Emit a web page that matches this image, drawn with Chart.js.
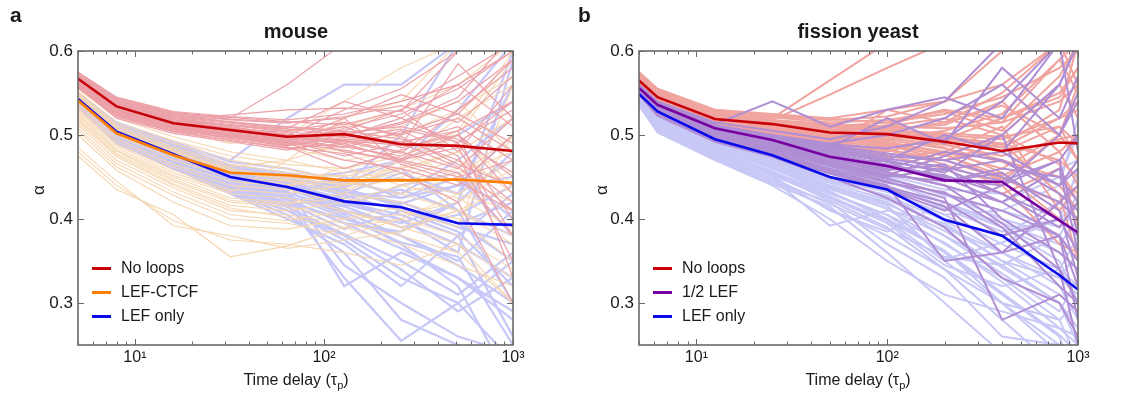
<!DOCTYPE html>
<html>
<head>
<meta charset="utf-8">
<script src="https://cdn.jsdelivr.net/npm/chart.js@4.4.1/dist/chart.umd.min.js"></script>
<style>
  html, body { margin: 0; padding: 0; background: #fff; }
  body { width: 1136px; height: 402px; position: relative; overflow: hidden; font-family: "Liberation Sans", Arial, sans-serif; color: #1a1a1a; }
  canvas { position: absolute; top: 0; }
  .lbl { position: absolute; white-space: nowrap; }
  .panel { font-weight: bold; font-size: 21px; }
  .title { font-weight: bold; font-size: 20px; transform: translateX(-50%); }
  .xt { font-size: 16px; transform: translateX(-50%); }
  .xt sub { font-size: 11px; vertical-align: -4px; }
  .yt { font-size: 17px; transform: translate(-50%, -50%) rotate(-90deg); }
  .leg { position: absolute; font-size: 16px; width: 160px; }
  .leg div { position: relative; height: 24px; line-height: 24px; white-space: nowrap; }
  .leg span.sw { position: absolute; left: 0; top: 11px; width: 19px; height: 2.5px; }
  .leg span.tx { position: absolute; left: 29px; top: 0; white-space: nowrap; }
</style>
</head>
<body>
<canvas id="ca" width="568" height="402" style="left:0"></canvas>
<canvas id="cb" width="568" height="402" style="left:568px"></canvas>

<div class="lbl panel" style="left:10px; top:3px;">a</div>
<div class="lbl panel" style="left:578px; top:3px;">b</div>
<div class="lbl title" style="left:296px; top:20px;">mouse</div>
<div class="lbl title" style="left:858px; top:20px;">fission yeast</div>
<div class="lbl xt" style="left:296px; top:371px;">Time delay (τ<sub>p</sub>)</div>
<div class="lbl xt" style="left:858px; top:371px;">Time delay (τ<sub>p</sub>)</div>
<div class="lbl yt" style="left:39px; top:190px;">α</div>
<div class="lbl yt" style="left:602px; top:190px;">α</div>

<div class="leg" id="legA" style="left:92px; top:256px;"></div>
<div class="leg" id="legB" style="left:653px; top:256px;"></div>

<script>
// ---------------- DATA ----------------
const X_A = [5, 8, 16, 32, 64, 128, 256, 512, 1000];
const X_B = [5, 6.25, 12.5, 25, 50, 100, 200, 400, 800, 1000];
const X_TICKS = [10, 100, 1000];
const X_TICK_LABELS = ['10\u00B9', '10\u00B2', '10\u00B3'];
const Y_TICKS = [0.3, 0.4, 0.5, 0.6];

const LABELS_A = ['No loops', 'LEF-CTCF', 'LEF only'];
const LABELS_B = ['No loops', '1/2 LEF', 'LEF only'];

// mouse means
const A_NOLOOPS = [0.567, 0.534, 0.514, 0.506, 0.498, 0.501, 0.489, 0.487, 0.481];
const A_CTCF    = [0.541, 0.502, 0.476, 0.455, 0.452, 0.446, 0.446, 0.447, 0.443];
const A_LEF     = [0.543, 0.504, 0.477, 0.450, 0.438, 0.421, 0.414, 0.395, 0.393];

// fission yeast means
const B_NOLOOPS = [0.565, 0.545, 0.519, 0.513, 0.503, 0.501, 0.492, 0.481, 0.491, 0.490];
const B_HALF    = [0.556, 0.536, 0.508, 0.494, 0.474, 0.463, 0.446, 0.444, 0.398, 0.384];
const B_LEF     = [0.549, 0.528, 0.495, 0.476, 0.450, 0.435, 0.399, 0.380, 0.333, 0.316];

// mouse individual trajectories
const A_NOLOOPS_RUNS = [
  [.575,.545,.528,.522,.518,.525,.540,.560,.600],
  [.572,.540,.522,.515,.510,.505,.495,.470,.420],
  [.570,.538,.520,.512,.505,.515,.500,.520,.480],
  [.568,.536,.518,.510,.500,.498,.520,.490,.540],
  [.566,.534,.515,.508,.503,.480,.470,.455,.380],
  [.565,.532,.514,.505,.498,.510,.485,.500,.450],
  [.563,.530,.512,.503,.495,.492,.478,.530,.580],
  [.562,.528,.510,.500,.492,.485,.505,.475,.350],
  [.560,.526,.508,.498,.490,.470,.460,.440,.500],
  [.559,.524,.506,.496,.488,.500,.515,.545,.620],
  [.558,.522,.504,.494,.485,.478,.455,.420,.300],
  [.557,.520,.502,.492,.482,.495,.490,.510,.470],
  [.571,.542,.525,.520,.560,.610,.610,.610,.610],
  [.569,.539,.521,.514,.508,.540,.520,.560,.510],
  [.567,.535,.517,.509,.501,.488,.472,.490,.400],
  [.564,.531,.513,.504,.496,.505,.530,.480,.560],
  [.561,.527,.509,.499,.489,.515,.498,.465,.440],
  [.573,.543,.526,.519,.515,.520,.548,.525,.590],
  [.556,.523,.505,.497,.486,.460,.482,.505,.330],
  [.566,.533,.516,.507,.499,.493,.488,.585,.520],
  [.570,.537,.519,.524,.530,.532,.528,.600,.610],
  [.563,.529,.511,.501,.493,.520,.465,.445,.410],
  [.574,.544,.527,.521,.516,.512,.530,.570,.610],
  [.571,.541,.523,.516,.509,.503,.510,.495,.455],
  [.569,.538,.520,.511,.504,.497,.492,.505,.540],
  [.567,.536,.517,.508,.500,.494,.480,.460,.520],
  [.565,.533,.514,.505,.497,.490,.502,.525,.490],
  [.563,.530,.511,.502,.494,.486,.475,.500,.430],
  [.561,.528,.509,.500,.491,.482,.468,.450,.470],
  [.559,.525,.507,.497,.488,.508,.525,.555,.600],
  [.557,.522,.504,.494,.484,.490,.470,.485,.380],
  [.572,.541,.524,.518,.514,.522,.535,.515,.570],
  [.568,.537,.518,.512,.507,.500,.513,.540,.590],
  [.562,.529,.510,.501,.493,.475,.490,.462,.410],
  [.560,.527,.508,.499,.487,.497,.507,.492,.530],
  [.566,.534,.515,.506,.499,.530,.555,.600,.610]
];
const A_CTCF_RUNS = [
  [.565,.540,.525,.515,.505,.510,.530,.560,.610],
  [.560,.530,.510,.495,.485,.470,.480,.450,.420],
  [.555,.520,.498,.480,.470,.455,.460,.480,.520],
  [.550,.512,.490,.470,.460,.445,.430,.410,.380],
  [.545,.505,.480,.460,.450,.440,.450,.470,.440],
  [.540,.500,.470,.450,.445,.430,.420,.400,.350],
  [.535,.493,.462,.440,.435,.420,.440,.455,.480],
  [.528,.485,.452,.430,.425,.410,.390,.370,.330],
  [.520,.478,.445,.420,.415,.400,.405,.420,.460],
  [.512,.470,.437,.410,.405,.395,.380,.360,.300],
  [.505,.462,.428,.400,.395,.380,.400,.430,.410],
  [.546,.507,.482,.458,.448,.442,.455,.480,.520],
  [.485,.445,.392,.380,.365,.375,.385,.410,.440],
  [.475,.435,.405,.355,.368,.390,.400,.380,.340],
  [.530,.488,.455,.432,.470,.520,.540,.610,.610],
  [.548,.510,.486,.465,.455,.450,.470,.520,.560],
  [.538,.496,.465,.445,.438,.462,.440,.425,.390],
  [.515,.474,.440,.413,.402,.390,.370,.345,.320],
  [.500,.458,.420,.392,.388,.400,.415,.395,.500],
  [.544,.505,.480,.457,.446,.436,.448,.430,.470],
  [.558,.525,.505,.490,.500,.540,.580,.610,.610],
  [.525,.482,.450,.425,.420,.430,.470,.500,.590],
  [.562,.533,.515,.500,.490,.480,.500,.530,.570],
  [.552,.515,.493,.475,.465,.460,.475,.505,.600],
  [.543,.503,.475,.455,.450,.452,.445,.460,.520],
  [.532,.490,.458,.435,.430,.440,.460,.480,.430],
  [.518,.476,.442,.416,.410,.420,.430,.450,.500],
  [.508,.466,.432,.405,.398,.410,.390,.410,.370],
  [.541,.501,.474,.450,.441,.445,.462,.500,.440],
  [.480,.440,.398,.375,.370,.360,.345,.370,.300],
  [.547,.508,.484,.462,.470,.490,.510,.540,.480],
  [.523,.481,.447,.422,.418,.425,.410,.390,.560]
];
const A_LEF_RUNS = [
  [.550,.515,.492,.468,.460,.445,.430,.470,.520],
  [.548,.512,.488,.462,.452,.430,.420,.395,.350],
  [.546,.510,.485,.458,.448,.440,.500,.610,.610],
  [.545,.508,.482,.455,.445,.420,.405,.380,.430],
  [.543,.506,.480,.452,.440,.425,.435,.410,.300],
  [.542,.504,.478,.450,.437,.410,.395,.420,.480],
  [.541,.503,.476,.448,.434,.345,.300,.260,.240],
  [.540,.501,.474,.446,.430,.320,.360,.330,.280],
  [.538,.499,.472,.443,.425,.415,.440,.455,.400],
  [.537,.497,.469,.440,.420,.400,.380,.350,.410],
  [.536,.495,.467,.437,.415,.430,.455,.430,.560],
  [.535,.493,.465,.434,.410,.380,.340,.290,.330],
  [.534,.491,.462,.432,.405,.360,.280,.250,.210],
  [.549,.514,.490,.470,.520,.560,.560,.610,.610],
  [.544,.507,.481,.454,.442,.435,.415,.390,.370],
  [.539,.500,.473,.444,.428,.450,.425,.440,.450],
  [.547,.511,.486,.460,.450,.438,.460,.410,.380],
  [.533,.490,.460,.430,.400,.370,.320,.380,.260],
  [.542,.505,.479,.451,.438,.418,.400,.360,.590],
  [.536,.496,.468,.438,.418,.330,.255,.300,.350],
  [.545,.509,.483,.456,.446,.442,.470,.530,.610],
  [.540,.502,.475,.447,.432,.405,.370,.320,.200],
  [.549,.513,.489,.464,.455,.442,.448,.430,.470],
  [.548,.512,.487,.461,.451,.436,.418,.440,.500],
  [.546,.509,.484,.457,.446,.428,.410,.385,.320],
  [.545,.507,.481,.453,.441,.422,.398,.370,.330],
  [.543,.505,.479,.450,.436,.415,.390,.405,.440],
  [.541,.502,.476,.447,.432,.408,.380,.345,.300],
  [.540,.500,.473,.444,.428,.402,.372,.355,.250],
  [.538,.498,.470,.441,.424,.395,.365,.330,.290],
  [.537,.496,.468,.439,.419,.388,.410,.395,.420],
  [.535,.494,.465,.436,.414,.382,.350,.310,.360],
  [.534,.492,.463,.433,.410,.375,.330,.300,.230],
  [.547,.510,.485,.459,.447,.455,.470,.500,.540],
  [.544,.506,.480,.452,.443,.432,.425,.450,.380],
  [.539,.499,.471,.442,.423,.395,.385,.420,.600]
];

// fission yeast individual trajectories
const B_NOLOOPS_RUNS = [
  [.575,.555,.530,.525,.520,.530,.540,.560,.610,.610],
  [.572,.552,.527,.520,.565,.610,.610,.610,.610,.610],
  [.570,.550,.525,.518,.548,.580,.610,.610,.610,.610],
  [.568,.548,.523,.515,.510,.505,.500,.495,.520,.540],
  [.567,.547,.521,.513,.507,.500,.490,.470,.450,.430],
  [.566,.545,.519,.511,.505,.510,.520,.500,.560,.520],
  [.565,.544,.518,.510,.503,.498,.485,.455,.400,.380],
  [.564,.543,.517,.508,.500,.495,.505,.525,.590,.610],
  [.563,.542,.516,.506,.498,.492,.478,.445,.500,.470],
  [.562,.541,.515,.505,.496,.488,.470,.490,.430,.350],
  [.561,.540,.514,.503,.494,.485,.495,.520,.550,.580],
  [.560,.539,.513,.502,.492,.482,.465,.440,.370,.360],
  [.559,.538,.512,.500,.490,.480,.500,.480,.510,.490],
  [.558,.537,.511,.498,.488,.530,.515,.550,.610,.560],
  [.557,.536,.510,.497,.486,.476,.460,.430,.460,.420],
  [.569,.549,.524,.517,.512,.508,.512,.540,.480,.500],
  [.571,.551,.526,.521,.515,.518,.528,.505,.570,.610],
  [.556,.535,.509,.495,.484,.473,.480,.510,.410,.440],
  [.564,.546,.520,.512,.506,.502,.496,.488,.530,.610],
  [.560,.540,.514,.504,.495,.490,.475,.500,.465,.390],
  [.573,.553,.528,.522,.518,.522,.540,.600,.610,.610],
  [.566,.546,.520,.509,.502,.512,.530,.515,.590,.550],
  [.574,.554,.529,.523,.519,.515,.525,.545,.580,.600],
  [.570,.550,.525,.518,.513,.510,.508,.515,.540,.560],
  [.568,.548,.522,.515,.509,.506,.502,.498,.510,.470],
  [.566,.546,.520,.512,.506,.503,.498,.490,.470,.450],
  [.565,.545,.519,.510,.503,.500,.495,.485,.520,.530],
  [.563,.543,.517,.508,.500,.496,.488,.475,.495,.500],
  [.562,.541,.516,.506,.498,.494,.484,.468,.440,.410],
  [.561,.540,.514,.504,.496,.491,.480,.460,.500,.560],
  [.559,.538,.512,.501,.492,.487,.476,.452,.480,.440],
  [.567,.547,.521,.514,.510,.515,.530,.520,.545,.580],
  [.564,.544,.518,.509,.501,.505,.515,.535,.500,.470],
  [.558,.537,.511,.499,.489,.483,.470,.448,.420,.400]
];
const B_HALF_RUNS = [
  [.560,.540,.515,.505,.495,.510,.540,.610,.610,.610],
  [.558,.538,.512,.500,.490,.500,.520,.560,.500,.540],
  [.557,.536,.510,.498,.487,.475,.470,.450,.420,.400],
  [.556,.535,.508,.495,.483,.470,.455,.500,.560,.610],
  [.555,.533,.506,.492,.478,.465,.450,.420,.380,.350],
  [.554,.532,.504,.490,.475,.460,.480,.470,.440,.460],
  [.553,.530,.502,.487,.471,.455,.440,.395,.340,.300],
  [.552,.529,.500,.484,.467,.450,.460,.430,.400,.380],
  [.551,.527,.498,.482,.463,.445,.425,.280,.310,.290],
  [.550,.526,.496,.479,.458,.440,.350,.360,.420,.440],
  [.549,.524,.494,.476,.454,.435,.410,.440,.470,.380],
  [.548,.523,.492,.474,.450,.425,.390,.330,.300,.260],
  [.559,.539,.513,.540,.510,.530,.545,.520,.610,.610],
  [.555,.534,.507,.493,.480,.468,.445,.460,.450,.420],
  [.553,.531,.503,.489,.473,.458,.465,.400,.360,.340],
  [.551,.528,.499,.483,.465,.448,.430,.410,.380,.320],
  [.557,.537,.511,.499,.489,.484,.495,.540,.610,.480],
  [.550,.525,.495,.478,.456,.438,.420,.380,.400,.360],
  [.556,.534,.509,.496,.485,.520,.490,.580,.520,.570],
  [.552,.530,.501,.486,.469,.452,.475,.500,.340,.250],
  [.557,.537,.510,.497,.485,.472,.462,.445,.470,.500],
  [.556,.535,.508,.494,.481,.468,.458,.470,.430,.410],
  [.555,.534,.507,.492,.478,.464,.448,.440,.500,.550],
  [.554,.532,.505,.490,.476,.462,.452,.430,.390,.420],
  [.553,.531,.503,.488,.472,.456,.440,.420,.460,.360],
  [.552,.529,.501,.485,.468,.452,.445,.455,.410,.330],
  [.551,.528,.500,.484,.466,.470,.500,.480,.440,.470],
  [.550,.526,.497,.480,.460,.443,.432,.390,.320,.300],
  [.558,.538,.511,.498,.488,.478,.470,.480,.560,.610],
  [.549,.525,.495,.477,.455,.436,.415,.360,.380,.280]
];
const B_LEF_RUNS = [
  [.550,.530,.500,.482,.465,.455,.440,.420,.450,.500],
  [.548,.528,.497,.478,.460,.448,.430,.400,.380,.350],
  [.547,.526,.494,.475,.455,.440,.415,.390,.350,.300],
  [.546,.525,.492,.472,.450,.435,.400,.380,.420,.450],
  [.545,.523,.490,.469,.445,.428,.390,.360,.320,.280],
  [.544,.522,.488,.466,.440,.420,.380,.345,.300,.250],
  [.543,.520,.486,.463,.436,.412,.370,.330,.280,.230],
  [.542,.518,.484,.460,.431,.405,.360,.310,.260,.200],
  [.541,.516,.482,.457,.427,.398,.350,.300,.240,.200],
  [.540,.514,.480,.454,.422,.390,.340,.280,.220,.200],
  [.539,.512,.478,.451,.410,.385,.420,.390,.360,.340],
  [.538,.510,.476,.448,.392,.410,.395,.350,.330,.310],
  [.537,.508,.474,.445,.420,.370,.330,.260,.250,.220],
  [.536,.505,.472,.442,.415,.360,.300,.240,.230,.210],
  [.549,.529,.499,.480,.462,.452,.435,.430,.460,.470],
  [.544,.521,.487,.465,.438,.416,.352,.372,.400,.420],
  [.541,.515,.481,.455,.425,.395,.345,.320,.340,.380],
  [.535,.503,.470,.440,.400,.350,.310,.290,.270,.260],
  [.546,.524,.491,.470,.448,.432,.405,.410,.440,.520],
  [.542,.519,.485,.461,.433,.400,.362,.300,.250,.240],
  [.549,.529,.498,.479,.461,.450,.428,.410,.390,.430],
  [.548,.527,.496,.477,.458,.445,.420,.395,.370,.400],
  [.547,.526,.494,.474,.454,.440,.412,.385,.400,.460],
  [.546,.524,.492,.471,.450,.434,.405,.370,.340,.320],
  [.545,.522,.490,.468,.446,.428,.398,.360,.330,.360],
  [.544,.521,.488,.466,.443,.423,.392,.350,.310,.290],
  [.543,.519,.486,.463,.440,.418,.386,.342,.300,.270],
  [.542,.517,.484,.460,.436,.413,.380,.335,.290,.330],
  [.540,.514,.481,.456,.430,.405,.372,.325,.270,.250],
  [.539,.512,.479,.452,.425,.398,.362,.312,.262,.240],
  [.537,.509,.476,.448,.418,.388,.355,.345,.380,.420],
  [.536,.507,.473,.445,.412,.380,.340,.300,.280,.300]
];

// ---------------- STYLE ----------------
const COL = {
  red: 'rgb(200,0,8)', orange: 'rgb(255,128,0)', blue: 'rgb(10,10,235)', purple: 'rgb(118,0,160)',
  redFaintA: 'rgb(236,160,168)', orangeFaintA: 'rgb(246,214,176)', blueFaintA: 'rgb(200,200,248)',
  redFaintB: 'rgb(240,164,160)', purpleFaintB: 'rgb(176,142,212)', blueFaintB: 'rgb(200,200,246)'
};

function pts(xs, ys) { return ys.map((y, i) => ({ x: xs[i], y: y })); }

function runSets(xs, runs, color, width, order) {
  return runs.map(r => ({ data: pts(xs, r), borderColor: color, borderWidth: width, pointRadius: 0, tension: 0, clip: 0, order: order }));
}
function meanSet(xs, ys, color) {
  return { data: pts(xs, ys), borderColor: color, borderWidth: 2.6, pointRadius: 0, tension: 0, clip: 0, order: 0 };
}

const boxPlugin = {
  id: 'box',
  afterDatasetsDraw(chart) {
    const { ctx, chartArea: a, scales } = chart;
    const xs = scales.x, ys = scales.y;
    ctx.save();
    ctx.strokeStyle = 'rgb(105,105,105)';
    ctx.lineWidth = 1;
    ctx.beginPath();
    for (let e = 0; e <= 3; e++) {
      for (let m = 1; m <= 9; m++) {
        const v = m * Math.pow(10, e);
        if (v < 5 || v > 1000) continue;
        const px = Math.round(xs.getPixelForValue(v)) + 0.5;
        const len = (m === 1) ? 6 : 3.5;
        ctx.moveTo(px, a.bottom); ctx.lineTo(px, a.bottom - len);
        ctx.moveTo(px, a.top); ctx.lineTo(px, a.top + len);
      }
    }
    Y_TICKS.forEach(v => {
      const py = Math.round(ys.getPixelForValue(v)) + 0.5;
      ctx.moveTo(a.left, py); ctx.lineTo(a.left + 6, py);
      ctx.moveTo(a.right, py); ctx.lineTo(a.right - 6, py);
    });
    ctx.stroke();
    ctx.lineWidth = 1.6;
    ctx.strokeRect(a.left, a.top, a.right - a.left, a.bottom - a.top);
    ctx.restore();
  }
};

function makeChart(id, datasets, yWidth, padRight) {
  return new Chart(document.getElementById(id), {
    type: 'line',
    data: { datasets: datasets },
    plugins: [boxPlugin],
    options: {
      responsive: false, animation: false, devicePixelRatio: 1,
      layout: { padding: { left: 0, right: padRight, top: 51, bottom: 0 } },
      plugins: { legend: { display: false }, tooltip: { enabled: false }, title: { display: false } },
      scales: {
        x: {
          type: 'logarithmic', min: 5, max: 1000,
          grid: { display: false, drawTicks: false }, border: { display: false },
          afterBuildTicks: s => { s.ticks = X_TICKS.map(v => ({ value: v, major: true })); },
          afterFit: s => { s.height = 57; },
          ticks: {
            autoSkip: false, maxRotation: 0, padding: 3, color: '#1a1a1a',
            font: { family: '"Liberation Sans", Arial, sans-serif', size: 16 },
            callback: v => { const i = X_TICKS.indexOf(v); return i >= 0 ? X_TICK_LABELS[i] : ''; }
          }
        },
        y: {
          type: 'linear', min: 0.25, max: 0.6,
          grid: { display: false, drawTicks: false }, border: { display: false },
          afterBuildTicks: s => { s.ticks = Y_TICKS.map(v => ({ value: v })); },
          afterFit: s => { s.width = yWidth; },
          ticks: {
            padding: 5, color: '#1a1a1a',
            font: { family: '"Liberation Sans", Arial, sans-serif', size: 17 },
            callback: v => Number(v).toFixed(1)
          }
        }
      }
    }
  });
}

const dsA = [].concat(
  meanSet(X_A, A_NOLOOPS, COL.red),
  meanSet(X_A, A_CTCF, COL.orange),
  meanSet(X_A, A_LEF, COL.blue),
  runSets(X_A, A_NOLOOPS_RUNS, COL.redFaintA, 1.2, 1),
  runSets(X_A, A_CTCF_RUNS, COL.orangeFaintA, 1.1, 2),
  runSets(X_A, A_LEF_RUNS, COL.blueFaintA, 2.2, 3)
);
const dsB = [].concat(
  meanSet(X_B, B_NOLOOPS, COL.red),
  meanSet(X_B, B_HALF, COL.purple),
  meanSet(X_B, B_LEF, COL.blue),
  runSets(X_B, B_HALF_RUNS, COL.purpleFaintB, 2, 1),
  runSets(X_B, B_NOLOOPS_RUNS, COL.redFaintB, 2, 2),
  runSets(X_B, B_LEF_RUNS, COL.blueFaintB, 2, 3)
);

makeChart('ca', dsA, 78, 55);
makeChart('cb', dsB, 71, 58);

function legend(id, labels, colors) {
  const el = document.getElementById(id);
  labels.forEach((t, i) => {
    const row = document.createElement('div');
    row.innerHTML = '<span class="sw" style="background:' + colors[i] + '"></span><span class="tx">' + t + '</span>';
    el.appendChild(row);
  });
}
legend('legA', LABELS_A, [COL.red, COL.orange, COL.blue]);
legend('legB', LABELS_B, [COL.red, COL.purple, COL.blue]);
</script>
</body>
</html>
